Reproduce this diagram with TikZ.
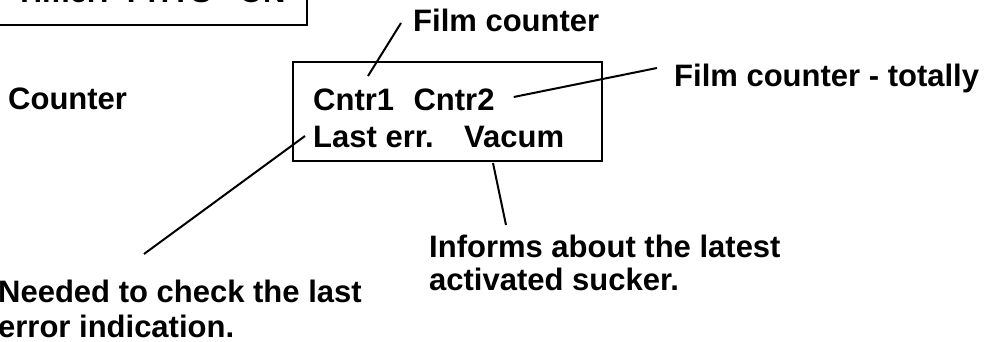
\documentclass[tikz,border=0pt]{standalone}
\usepackage{fontspec}
\setmainfont{Liberation Sans}
\usetikzlibrary{positioning}

\begin{document}
\begin{tikzpicture}[
		x=1pt, y=-1pt,
		txt/.style={inner sep=0pt, anchor=base west, font=\fontsize{31}{35}\selectfont\bfseries},
		note/.style={txt, anchor=north west, align=left},
		panel/.style={draw, line width=2.4pt},
		lead/.style={line width=2pt}
		]
		\useasboundingbox (0,0) rectangle (989,342);
		\clip (0,0) rectangle (989,342);

		% screen boxes
		\draw[panel] (-30,-60) rectangle (307,25);
		\node[txt] (timer) at (15,3) {Timer: YY:YS - ON};
		\draw[panel] (293,62) rectangle (602,161);

		% screen content
		\node[txt] (cntrA) at (313,111) {Cntr1};
		\node[txt, right=19pt of cntrA.base east, anchor=base west] (cntrB) {Cntr2};
		\node[txt] (lasterr) at (313,148) {Last err.};
		\node[txt] (vacum) at (464,148) {Vacum};
		\node[txt] (counter) at (8,110) {Counter};

		% explanations
		\node[txt] (filmlbl) at (413,32) {Film counter};
		\node[txt] (totlbl) at (674,87) {Film counter - totally};
		\node[note] (needlbl) at (-2,279.5) {Needed to check the last\\error indication.};
		\node[note, font=\fontsize{31}{33}\selectfont\bfseries] (infolbl) at (429,234.5) {Informs about the latest\\activated sucker.};

		\draw[lead] ([shift={(55,-35)}]cntrA.base west) -- ([shift={(-12,-9)}]filmlbl.base west);
		\draw[lead] ([shift={(19,-14)}]cntrB.base east) -- ([shift={(-17,-19)}]totlbl.base west);
		\draw[lead] ([shift={(-8,-12)}]lasterr.base west) -- ([shift={(146,-25.5)}]needlbl.north west);
		\draw[lead] ([shift={(29,15)}]vacum.base west) -- ([shift={(77,-9.5)}]infolbl.north west);
	\end{tikzpicture}
\end{document}
